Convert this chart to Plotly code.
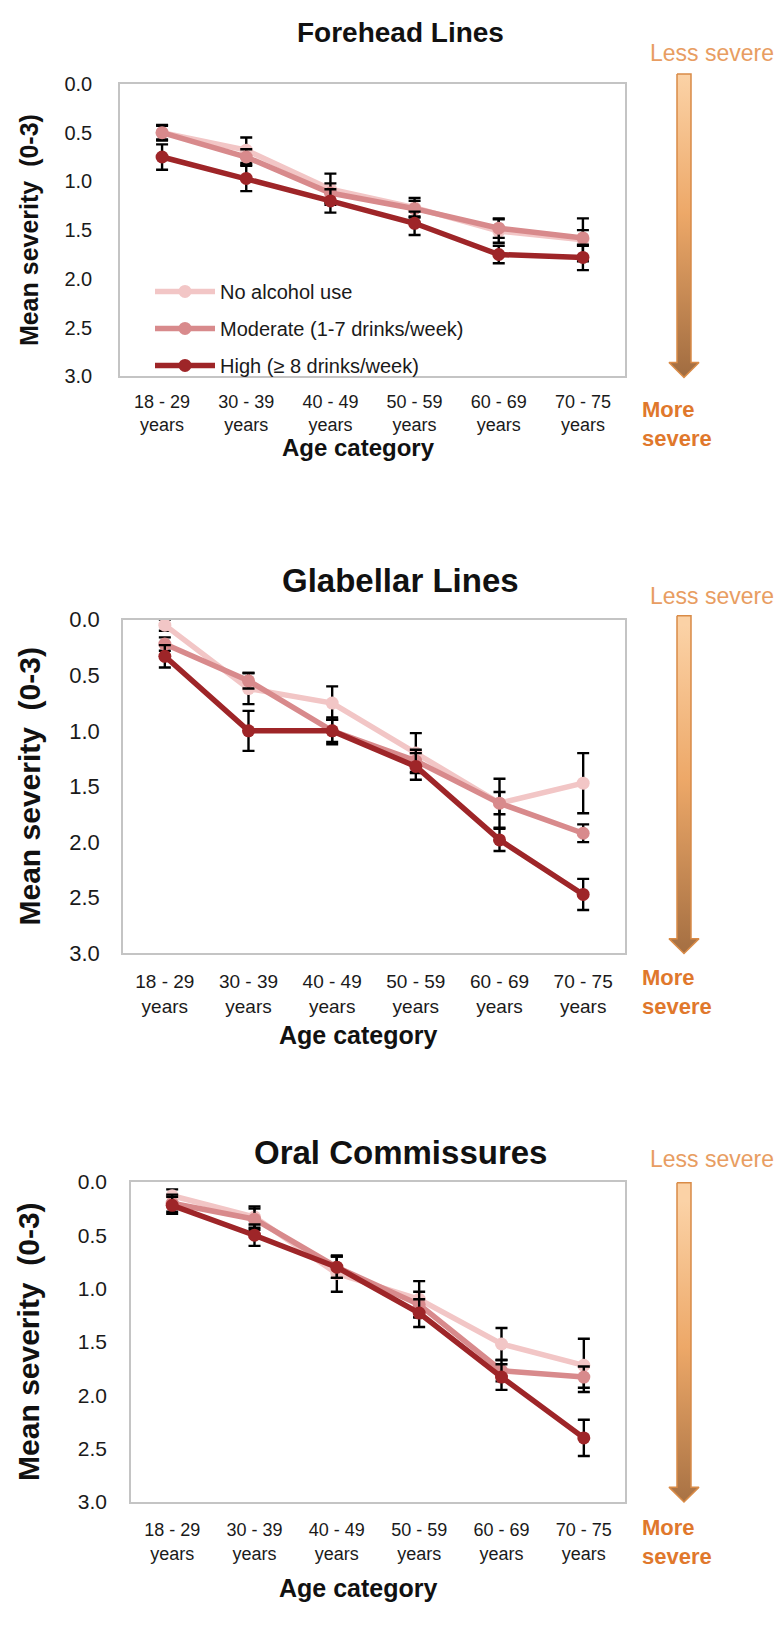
import plotly.graph_objects as go

# ---- data -----------------------------------------------------------------
age_groups = ["18 - 29<br>years", "30 - 39<br>years", "40 - 49<br>years",
              "50 - 59<br>years", "60 - 69<br>years", "70 - 75<br>years"]
series_names = ["No alcohol use", "Moderate (1-7 drinks/week)", "High (\u2265 8 drinks/week)"]
panel_titles = ["Forehead Lines", "Glabellar Lines", "Oral Commissures"]
y_ticks = [0.0, 0.5, 1.0, 1.5, 2.0, 2.5, 3.0]
y_tick_labels = ["0.0", "0.5", "1.0", "1.5", "2.0", "2.5", "3.0"]

# mean severity (0-3) per age group
forehead_none = [0.50, 0.68, 1.08, 1.27, 1.51, 1.60]
forehead_moderate = [0.50, 0.75, 1.12, 1.28, 1.48, 1.58]
forehead_high = [0.75, 0.97, 1.20, 1.43, 1.75, 1.78]
forehead_none_err = [0.08, 0.13, 0.16, 0.10, 0.12, 0.22]
forehead_moderate_err = [0.07, 0.08, 0.10, 0.08, 0.10, 0.08]
forehead_high_err = [0.13, 0.13, 0.12, 0.12, 0.09, 0.13]

glabellar_none = [0.05, 0.62, 0.75, 1.20, 1.65, 1.47]
glabellar_moderate = [0.22, 0.55, 1.00, 1.27, 1.65, 1.92]
glabellar_high = [0.33, 1.00, 1.00, 1.32, 1.98, 2.47]
glabellar_none_err = [0.05, 0.14, 0.15, 0.18, 0.22, 0.27]
glabellar_moderate_err = [0.06, 0.07, 0.10, 0.10, 0.10, 0.08]
glabellar_high_err = [0.10, 0.18, 0.12, 0.12, 0.10, 0.14]

oral_none = [0.13, 0.33, 0.86, 1.10, 1.52, 1.72]
oral_moderate = [0.20, 0.35, 0.80, 1.15, 1.77, 1.83]
oral_high = [0.22, 0.50, 0.80, 1.23, 1.83, 2.40]
oral_none_err = [0.06, 0.10, 0.17, 0.17, 0.15, 0.25]
oral_moderate_err = [0.08, 0.10, 0.10, 0.12, 0.10, 0.10]
oral_high_err = [0.08, 0.10, 0.10, 0.13, 0.12, 0.17]

# ---- styling / layout constants -------------------------------------------
W, H = 777, 1638
COLORS = ["#F2C6C6", "#D88A8C", "#9E2528"]
FONT = "Liberation Sans, Arial, sans-serif"

panels = [
    dict(title=panel_titles[0],
         series=[forehead_none, forehead_moderate, forehead_high],
         errors=[forehead_none_err, forehead_moderate_err, forehead_high_err],
         box=(120, 625, 73, 370), title_y=21, less_y=42, more_y=418,
         age_y=442, arrow=(63, 371), xticklen=8, yticklen=22,
         fs=dict(title=28, ytitle=25, ytick=20, xtick=18, age=24)),
    dict(title=panel_titles[1],
         series=[glabellar_none, glabellar_moderate, glabellar_high],
         errors=[glabellar_none_err, glabellar_moderate_err, glabellar_high_err],
         box=(123, 625, 617, 956), title_y=577, less_y=593, more_y=995,
         age_y=1039, arrow=(613, 956), xticklen=10, yticklen=17,
         fs=dict(title=33, ytitle=30, ytick=22, xtick=19, age=25)),
    dict(title=panel_titles[2],
         series=[oral_none, oral_moderate, oral_high],
         errors=[oral_none_err, oral_moderate_err, oral_high_err],
         box=(131, 625, 1188, 1513), title_y=1158, less_y=1165, more_y=1554,
         age_y=1600, arrow=(1189, 1513), xticklen=11, yticklen=18,
         fs=dict(title=33, ytitle=30, ytick=21, xtick=18, age=25)),
]


def px_x(v):
    return v / W


def px_y(v):
    return 1 - v / H


fig = go.Figure()
annotations = []
layout_axes = {}

for i, p in enumerate(panels):
    n = "" if i == 0 else str(i + 1)
    left, right, top, bottom = p["box"]
    fs = p["fs"]
    for s, (vals, errs) in enumerate(zip(p["series"], p["errors"])):
        fig.add_trace(go.Scatter(
            x=age_groups, y=vals,
            xaxis="x" + n, yaxis="y" + n,
            mode="lines+markers",
            name=series_names[s],
            legendgroup=series_names[s],
            showlegend=(i == 0),
            line=dict(color=COLORS[s], width=5.5),
            marker=dict(color=COLORS[s], size=13, symbol="circle"),
            error_y=dict(type="data", array=errs, visible=True,
                         color="black", thickness=2.4, width=6),
            hoverinfo="x+y+name",
        ))
    layout_axes["xaxis" + n] = dict(
        domain=[px_x(left), px_x(right)], anchor="y" + n,
        type="category", range=[-0.5, 5.5],
        showline=True, mirror=True, linecolor="#c4c4c4", linewidth=1.5,
        showgrid=False, zeroline=False,
        ticks="outside", ticklen=p["xticklen"], tickcolor="rgba(0,0,0,0)",
        tickfont=dict(family=FONT, size=fs["xtick"], color="#1a1a1a"),
    )
    layout_axes["yaxis" + n] = dict(
        domain=[px_y(bottom), px_y(top)], anchor="x" + n,
        range=[3, 0], tickvals=y_ticks, ticktext=y_tick_labels,
        showline=True, mirror=True, linecolor="#c4c4c4", linewidth=1.5,
        showgrid=False, zeroline=False,
        ticks="outside", ticklen=p["yticklen"], tickcolor="rgba(0,0,0,0)",
        tickfont=dict(family=FONT, size=fs["ytick"], color="#1a1a1a"),
    )

    # panel title, axis titles and severity labels
    annotations += [
        dict(text="<b>" + p["title"] + "</b>", x=px_x(400), y=px_y(p["title_y"]),
             font=dict(family=FONT, size=fs["title"], color="#111"), showarrow=False,
             xref="paper", yref="paper", xanchor="center", yanchor="middle"),
        dict(text="<b>Mean severity  (0-3)</b>", x=px_x(29),
             y=px_y((top + bottom) / 2), textangle=-90,
             font=dict(family=FONT, size=fs["ytitle"], color="#111"), showarrow=False,
             xref="paper", yref="paper", xanchor="center", yanchor="middle"),
        dict(text="<b>Age category</b>", x=px_x(358), y=px_y(p["age_y"]),
             font=dict(family=FONT, size=fs["age"], color="#111"), showarrow=False,
             xref="paper", yref="paper", xanchor="center", yanchor="middle"),
        dict(text="Less severe", x=px_x(776), y=px_y(p["less_y"]),
             font=dict(family=FONT, size=23, color="#E89D62"), showarrow=False,
             xref="paper", yref="paper", xanchor="right", yanchor="middle"),
        dict(text="<b>More<br>severe</b>", x=px_x(640), y=px_y(p["more_y"]), align="left",
             font=dict(family=FONT, size=22, color="#E0782C"), showarrow=False,
             xref="paper", yref="paper", xanchor="left", yanchor="middle"),
    ]

    # gradient arrow pointing toward "more severe"
    a_top, a_tip = p["arrow"]
    cx, hw, head_w, head_h = 684, 7, 15, 15
    ax = [cx - hw, cx + hw, cx + hw, cx + head_w, cx, cx - head_w, cx - hw, cx - hw]
    ay = [a_top, a_top, a_tip - head_h, a_tip - head_h, a_tip, a_tip - head_h,
          a_tip - head_h, a_top]
    fig.add_trace(go.Scatter(
        x=ax, y=ay, xaxis="x4", yaxis="y4", mode="lines",
        fill="toself",
        fillgradient=dict(type="vertical", start=a_top, stop=a_tip,
                          colorscale=[[0, "#FBD2A6"], [0.45, "#EDA868"], [1, "#9E6A3F"]]),
        line=dict(color="#D98B47", width=1.5),
        showlegend=False, hoverinfo="skip",
    ))

layout_axes["xaxis4"] = dict(domain=[0, 1], range=[0, W], visible=False, anchor="y4",
                             fixedrange=True)
layout_axes["yaxis4"] = dict(domain=[0, 1], range=[H, 0], visible=False, anchor="x4",
                             fixedrange=True)

fig.update_layout(
    width=W, height=H,
    margin=dict(l=0, r=0, t=0, b=0),
    paper_bgcolor="white", plot_bgcolor="rgba(0,0,0,0)",
    showlegend=True,
    legend=dict(x=px_x(150), y=px_y(264), xanchor="left", yanchor="top",
                bgcolor="rgba(0,0,0,0)", tracegroupgap=8, itemwidth=60,
                font=dict(family=FONT, size=20, color="#1a1a1a")),
    annotations=annotations,
    **layout_axes,
)

fig.write_html("out.html")
